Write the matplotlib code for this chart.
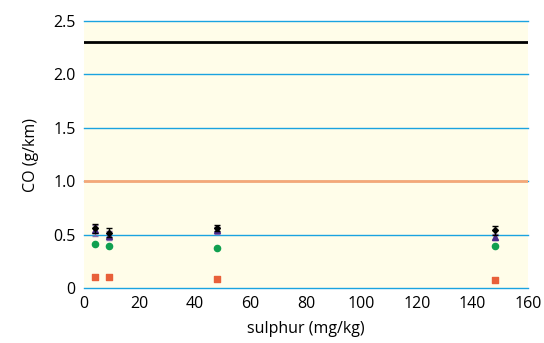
import matplotlib
matplotlib.use("Agg")
import matplotlib.pyplot as plt

plt.rcParams['font.family'] = ['Open Sans', 'DejaVu Sans']

sulphur = [4, 9, 48, 148]
black_vals = [0.56, 0.52, 0.56, 0.54]
black_err = [0.04, 0.04, 0.03, 0.04]
purple_vals = [0.54, 0.49, 0.54, 0.48]
purple_err = [0.05, 0.04, 0.03, 0.03]
green_vals = [0.41, 0.39, 0.38, 0.39]
orange_vals = [0.10, 0.10, 0.09, 0.08]
limit_black = 2.3
limit_orange = 1.0
xticks = [0, 20, 40, 60, 80, 100, 120, 140, 160]
yticks = [0, 0.5, 1.0, 1.5, 2.0, 2.5]
ytick_labels = ['0', '0.5', '1.0', '1.5', '2.0', '2.5']

fig = plt.figure(figsize=(5.44, 3.43), dpi=100)
ax = fig.add_axes([0.154, 0.160, 0.817, 0.779])
ax.set_facecolor('#fffde9')
ax.set_xlim(0, 160)
ax.set_ylim(0, 2.5)
for s in ax.spines.values():
    s.set_visible(False)
for y in yticks:
    ax.axhline(y, color='#1aa3e0', lw=1.0, zorder=1, clip_on=False)
ax.axhline(limit_black, color='black', lw=2.0, zorder=2)
ax.axhline(limit_orange, color='#f5a878', lw=2.0, zorder=2)

ax.scatter(sulphur, orange_vals, marker='s', s=16, color='#e8603a', zorder=3)
ax.scatter(sulphur, green_vals, marker='o', s=20, color='#10a050', zorder=3)
ax.errorbar(sulphur, purple_vals, yerr=purple_err, fmt='^', ms=5, color='#4a2a8c',
            ecolor='#8a70b0', elinewidth=1, capsize=2, zorder=4)
ax.errorbar(sulphur, black_vals, yerr=black_err, fmt='D', ms=3, color='black',
            ecolor='black', elinewidth=1, capsize=2, zorder=5)

ax.set_xticks(xticks)
ax.set_yticks(yticks)
ax.set_yticklabels(ytick_labels)
ax.tick_params(length=0, labelsize=11.5, pad=6)
ax.set_xlabel('sulphur (mg/kg)', fontsize=11.5, labelpad=6)
ax.set_ylabel('CO (g/km)', fontsize=11.5, labelpad=10)

fig.savefig('out.png', dpi=100, facecolor='white')
